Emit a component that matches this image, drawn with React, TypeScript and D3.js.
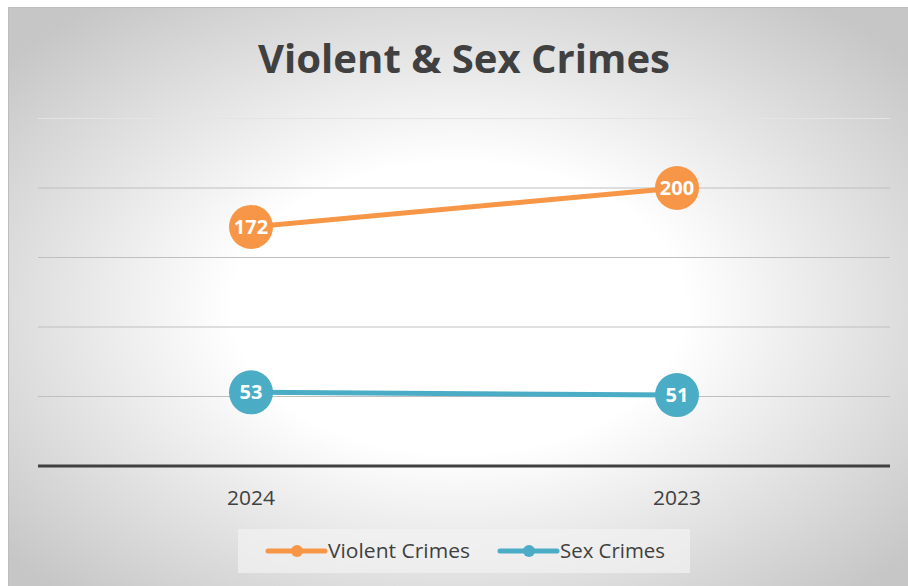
import React from "react";
import * as d3 from "d3";

const categories = ["2024", "2023"];
const violent = [172, 200];
const sex = [53, 51];
const yTicks = [0, 50, 100, 150, 200, 250];
const seriesNames = ["Violent Crimes", "Sex Crimes"];
const colors = ["#F79646", "#4BACC6"];

export default function App() {
  const W = 908, H = 586;
  const x = d3.scaleBand<string>().domain(categories).range([38, 890]);
  const y = d3.scaleLinear().domain([0, 250]).range([466, 118.5]);
  const cx = (c: string) => (x(c) as number) + x.bandwidth() / 2;
  const line = d3.line<number>().x((_, i) => cx(categories[i])).y((d) => y(d));
  const series = [violent, sex];
  const font = "'Open Sans', sans-serif";
  return (
    <svg width={W} height={H} style={{ position: "absolute", left: 0, top: 0 }}>
      <defs>
        <radialGradient id="bg" cx="50%" cy="52%" r="66%">
          <stop offset="0%" stopColor="#ffffff" />
          <stop offset="38%" stopColor="#ffffff" />
          <stop offset="100%" stopColor="#c6c6c6" />
        </radialGradient>
      </defs>
      <rect x={0} y={0} width={W} height={H} fill="#ffffff" />
      <rect x={8} y={7} width={W - 8} height={H - 7} fill="url(#bg)" />
      <line x1={8} x2={W} y1={7.5} y2={7.5} stroke="#bdbdbd" strokeWidth={1} />
      <line x1={8.5} x2={8.5} y1={7} y2={H} stroke="#bdbdbd" strokeWidth={1} />
      <text x={464} y={73} textAnchor="middle" fontFamily={font} fontWeight={700} fontSize={40} fill="#404040" textLength={412} lengthAdjust="spacingAndGlyphs">
        Violent &amp; Sex Crimes
      </text>
      {yTicks.filter((t) => t > 0).map((t) => (
        <line key={t} x1={38} x2={890} y1={y(t)} y2={y(t)} stroke={t === 250 ? "#e4e4e4" : "#bfbfbf"} strokeWidth={1} />
      ))}
      <line x1={38} x2={890} y1={y(0)} y2={y(0)} stroke="#404040" strokeWidth={3} />
      {categories.map((c) => (
        <text key={c} x={cx(c)} y={505} textAnchor="middle" fontFamily={font} fontSize={20} fill="#404040" textLength={48} lengthAdjust="spacingAndGlyphs">
          {c}
        </text>
      ))}
      {series.map((s, si) => (
        <g key={si}>
          <path d={line(s) || ""} fill="none" stroke={colors[si]} strokeWidth={5} />
          {s.map((v, i) => (
            <g key={i}>
              <circle cx={cx(categories[i])} cy={y(v)} r={22} fill={colors[si]} />
              <text x={cx(categories[i])} y={y(v) + 7} textAnchor="middle" fontFamily={font} fontWeight={700} fontSize={20} fill="#ffffff">
                {v}
              </text>
            </g>
          ))}
        </g>
      ))}
      <rect x={238} y={529} width={452} height={44} fill="#f2f2f2" opacity={0.7} />
      {seriesNames.map((n, i) => {
        const lx = i === 0 ? 268 : 500;
        return (
          <g key={n}>
            <line x1={lx} x2={lx + 57} y1={551} y2={551} stroke={colors[i]} strokeWidth={5} strokeLinecap="round" />
            <circle cx={lx + 29} cy={551} r={6} fill={colors[i]} />
            <text x={lx + 60} y={558} fontFamily={font} fontSize={20.5} fill="#404040" textLength={i === 0 ? 142 : 105} lengthAdjust="spacingAndGlyphs">
              {n}
            </text>
          </g>
        );
      })}
    </svg>
  );
}
